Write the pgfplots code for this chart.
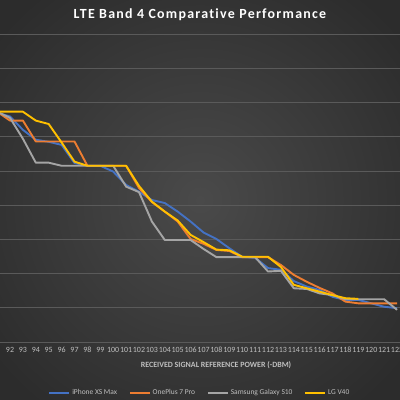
\documentclass[border=0pt]{standalone}
\usepackage{pgfplots}
\pgfplotsset{compat=1.18}
\usepackage{fontspec}
\setmainfont{Carlito}
\newfontfamily\titlefont[LetterSpace=9, Ligatures={NoCommon}]{Carlito}
\definecolor{cBlue}{HTML}{4472C4}
\definecolor{cOrange}{HTML}{ED7D31}
\definecolor{cGray}{HTML}{A5A5A5}
\definecolor{cYellow}{HTML}{FFC000}
\definecolor{txt}{HTML}{BFBFBF}
\definecolor{gridc}{HTML}{5A5A5A}
\begin{document}
\begin{tikzpicture}
\useasboundingbox (0bp,0bp) rectangle (400bp,400bp);
\clip (0bp,0bp) rectangle (400bp,400bp);
\shade[inner color={rgb,255:red,74;green,74;blue,74}, outer color={rgb,255:red,44;green,44;blue,44}] (-60bp,-60bp) rectangle (460bp,460bp);
\node[text=white, font=\titlefont\fontsize{14}{16}\selectfont\bfseries, anchor=center] at (200bp,385bp) {LTE Band 4 Comparative Performance};
\begin{axis}[
  at={(0bp,58bp)}, anchor=south west,
  scale only axis, width=400bp, height=308bp,
  xmin=91.225, xmax=122.23, ymin=0, ymax=90,
  xtick={91,...,122}, ytick={0,10,...,90},
  yticklabels={}, 
  major tick length=0pt,
  tick style={draw=none},
  ymajorgrids, grid style={draw=gridc, line width=0.7bp},
  axis line style={draw=none},
  clip=false,
  /pgf/number format/assume math mode=true,
  xticklabel style={text=txt, font=\fontsize{8}{9}\selectfont, inner sep=0pt, anchor=north, yshift=-5bp},
  xlabel={RECEIVED SIGNAL REFERENCE POWER (-DBM)},
  xlabel style={text=txt, font=\fontsize{8}{9}\selectfont\bfseries, at={(axis description cs:0.54,-0.0747)}, anchor=center},
  legend style={draw=none, fill=none, text=txt, font=\fontsize{7.5}{9}\selectfont, legend columns=4, at={(axis description cs:0.5,-0.1656)}, anchor=center, /tikz/every even column/.append style={column sep=10bp}},
  legend image code/.code={\draw[#1, line width=1.6bp] (0bp,0bp) -- (20bp,0bp);},
  every axis plot/.append style={line width=1.9bp, line join=round, mark=none},
]
\addplot[cBlue] coordinates {
(91,67.0)(92,65.9)(93,62.0)(94,59.1)(95,58.5)(96,57.6)(97,52.3)(98,51.5)(99,51.5)(100,49.8)
(101,45.9)(102,43.9)(103,41.5)(104,40.6)(105,38.1)(106,35.2)(107,32.0)(108,30.1)(109,27.4)(110,24.9)
(111,24.6)(112,21.6)(113,21.1)(114,17.8)(115,16.2)(116,15.2)(117,13.2)(118,12.3)(119,12.3)(120,11.3)
(121,10.3)(122,9.9)};
\addlegendentry{iPhone XS Max}
\addplot[cOrange] coordinates {
(91,67.3)(92,64.7)(93,64.7)(94,58.6)(95,58.6)(96,58.6)(97,58.6)(98,51.5)(99,51.5)(100,51.5)
(101,51.5)(102,45.0)(103,40.9)(104,38.1)(105,35.2)(106,30.1)(107,28.7)(108,26.9)(109,26.6)(110,24.8)
(111,24.8)(112,24.8)(113,22.5)(114,19.6)(115,17.6)(116,15.8)(117,14.2)(118,11.8)(119,11.3)(120,11.3)
(121,11.3)(122,11.3)};
\addlegendentry{OnePlus 7 Pro}
\addplot[cGray] coordinates {
(91,67.3)(92,65.5)(93,59.4)(94,52.4)(95,52.4)(96,51.5)(97,51.5)(98,51.5)(99,51.5)(100,51.5)
(101,45.4)(102,43.8)(103,35.2)(104,29.8)(105,29.8)(106,29.8)(107,27.2)(108,24.8)(109,24.8)(110,24.8)
(111,24.8)(112,20.6)(113,20.8)(114,15.7)(115,15.5)(116,14.2)(117,13.7)(118,12.5)(119,12.5)(120,12.5)
(121,12.5)(122,9.4)};
\addlegendentry{Samsung Galaxy S10}
\addplot[cYellow] coordinates {
(91,67.3)(92,67.3)(93,67.3)(94,64.7)(95,63.7)(96,58.3)(97,52.7)(98,51.5)(99,51.5)(100,51.5)
(101,51.5)(102,45.6)(103,41.0)(104,38.1)(105,35.5)(106,31.3)(107,29.2)(108,27.0)(109,26.8)(110,24.9)
(111,24.9)(112,24.9)(113,21.9)(114,16.7)(115,15.7)(116,14.7)(117,13.7)(118,12.8)(119,12.6)};
\addlegendentry{LG V40}
\end{axis}
\end{tikzpicture}
\end{document}
